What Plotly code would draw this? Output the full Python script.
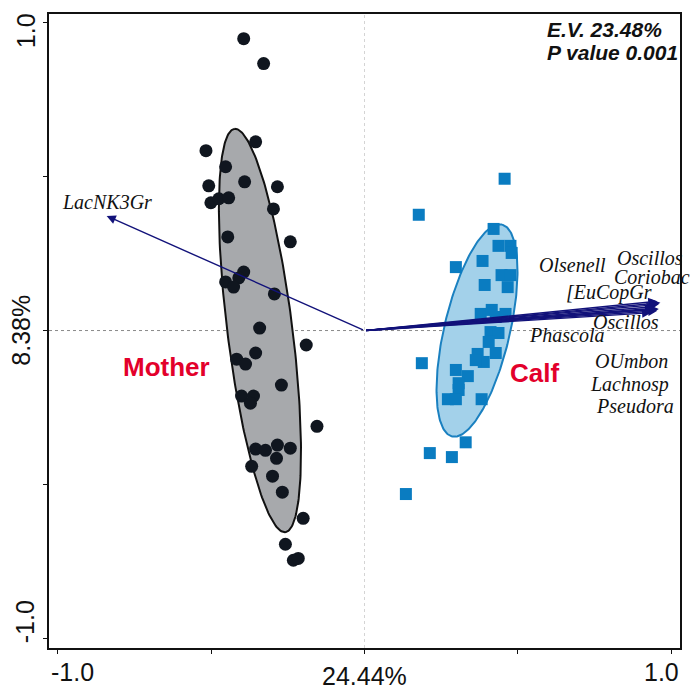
import numpy as np
import plotly.graph_objects as go

# ---------------- data ----------------
mother_x = [-0.394, -0.329, -0.517, -0.355, -0.453, -0.508, -0.391, -0.284, -0.501, -0.475,
            -0.443, -0.297, -0.446, -0.242, -0.394, -0.410, -0.453, -0.427, -0.294, -0.342,
            -0.190, -0.355, -0.417, -0.388, -0.271, -0.401, -0.362, -0.372, -0.155, -0.355,
            -0.323, -0.284, -0.242, -0.287, -0.368, -0.300, -0.268, -0.200, -0.258, -0.232,
            -0.216]
mother_y = [0.948, 0.867, 0.584, 0.613, 0.532, 0.470, 0.483, 0.467, 0.415, 0.428,
            0.431, 0.395, 0.304, 0.288, 0.190, 0.171, 0.158, 0.141, 0.119, 0.008,
            -0.047, -0.073, -0.093, -0.109, -0.177, -0.213, -0.213, -0.236, -0.311, -0.385,
            -0.389, -0.372, -0.382, -0.415, -0.441, -0.473, -0.525, -0.610, -0.694, -0.746,
            -0.740]

calf_x = [0.457, 0.177, 0.421, 0.298, 0.437, 0.476, 0.480, 0.385, 0.392, 0.447,
          0.476, 0.467, 0.379, 0.415, 0.428, 0.460, 0.411, 0.437, 0.405, 0.428,
          0.369, 0.389, 0.363, 0.187, 0.298, 0.337, 0.307, 0.307, 0.272, 0.298,
          0.382, 0.330, 0.213, 0.285, 0.135]
calf_y = [0.493, 0.376, 0.330, 0.206, 0.275, 0.275, 0.252, 0.226, 0.148, 0.180,
          0.180, 0.141, 0.054, 0.067, 0.044, 0.054, -0.005, -0.008, -0.037, -0.073,
          -0.076, -0.102, -0.096, -0.106, -0.128, -0.148, -0.171, -0.193, -0.223, -0.223,
          -0.223, -0.363, -0.398, -0.411, -0.531]

species = ["LacNK3Gr", "Olsenell", "Oscillos", "Coriobac", "[EuCopGr",
           "Oscillos", "Phascola", "OUmbon", "Lachnosp", "Pseudora"]
load_x = [-0.841, 0.955, 0.965, 0.960, 0.950, 0.945, 0.935, 0.955, 0.945, 0.960]
load_y = [0.372, 0.095, 0.090, 0.085, 0.078, 0.068, 0.058, 0.064, 0.072, 0.070]

x_ticks = [-1.0, -0.5, 0.0, 0.5, 1.0]
y_ticks = [-1.0, -0.5, 0.0, 0.5, 1.0]
x_axis_label = "24.44%"
y_axis_label = "8.38%"
ev_text = "E.V. 23.48%"
p_text = "P value 0.001"
group_names = ["Mother", "Calf"]

# ------------- layout helpers (positions / styles) -------------
label_pos = [(-0.841, 0.418), (0.678, 0.213), (0.930, 0.236), (0.938, 0.175),
             (0.798, 0.122), (0.854, 0.028), (0.659, -0.015), (0.872, -0.099),
             (0.865, -0.174), (0.881, -0.2455)]
group_label_pos = [(-0.646, -0.119), (0.554, -0.138)]
# ellipse: centre, major semi-axis vector, minor semi-axis length
ellipse_spec = [dict(c=(-0.341, 0.0), u=(-0.0829, 0.655), b=0.106,
                     fill="#a7a9ac", line="#111111"),
                dict(c=(0.367, 0.0), u=(0.0813, 0.344), b=0.107,
                     fill="#a3d1ea", line="#1a80c0")]

NAVY = "#12127a"
RED = "#e3002b"


def ellipse_path(c, u, b, n=240):
    a = np.hypot(*u)
    ux, uy = u[0] / a, u[1] / a
    vx, vy = -uy, ux
    t = np.linspace(0, 2 * np.pi, n)
    xs = c[0] + a * np.cos(t) * ux + b * np.sin(t) * vx
    ys = c[1] + a * np.cos(t) * uy + b * np.sin(t) * vy
    return xs, ys


fig = go.Figure()

for e in ellipse_spec:
    ex, ey = ellipse_path(e["c"], e["u"], e["b"])
    fig.add_trace(go.Scatter(x=ex, y=ey, mode="lines", fill="toself",
                             fillcolor=e["fill"], line=dict(color=e["line"], width=2),
                             hoverinfo="skip", showlegend=False))

fig.add_trace(go.Scatter(x=mother_x, y=mother_y, mode="markers", name=group_names[0],
                         marker=dict(symbol="circle", size=13, color="#10161f",
                                     line=dict(width=0)), showlegend=False))
fig.add_trace(go.Scatter(x=calf_x, y=calf_y, mode="markers", name=group_names[1],
                         marker=dict(symbol="square", size=12, color="#0a7cc1",
                                     line=dict(width=0)), showlegend=False))

annotations = []
# arrows
for sx, sy in zip(load_x, load_y):
    annotations.append(dict(x=sx, y=sy, ax=0, ay=0, xref="x", yref="y",
                            axref="x", ayref="y", text="", showarrow=True,
                            arrowhead=2, arrowsize=1.3, arrowwidth=1.4,
                            arrowcolor=NAVY, standoff=0, startstandoff=0))
# species labels
for name, (lx, ly) in zip(species, label_pos):
    annotations.append(dict(x=lx, y=ly, xref="x", yref="y", text="<i>%s</i>" % name,
                            showarrow=False,
                            font=dict(family="Liberation Serif", size=20, color="#111111"),
                            xanchor="center", yanchor="middle"))
# group labels
for name, (gx, gy) in zip(group_names, group_label_pos):
    annotations.append(dict(x=gx, y=gy, xref="x", yref="y", text="<b>%s</b>" % name,
                            showarrow=False, xanchor="center", yanchor="middle",
                            font=dict(family="Liberation Sans", size=26, color=RED)))
# E.V. / P value
annotations.append(dict(x=0.590, y=0.977, xref="x", yref="y", text="<b><i>%s</i></b>" % ev_text,
                        showarrow=False, xanchor="left", yanchor="middle",
                        font=dict(family="Liberation Sans", size=21, color="#111111")))
annotations.append(dict(x=0.590, y=0.902, xref="x", yref="y", text="<b><i>%s</i></b>" % p_text,
                        showarrow=False, xanchor="left", yanchor="middle",
                        font=dict(family="Liberation Sans", size=21, color="#111111")))

TICKFONT = dict(family="Liberation Sans", size=25, color="#111111")
# x tick labels / axis label
annotations.append(dict(x=-0.953, y=-0.0379, xref="x", yref="paper", text="%.1f" % x_ticks[0],
                        showarrow=False, xanchor="center", yanchor="middle", font=TICKFONT))
annotations.append(dict(x=0.970, y=-0.0379, xref="x", yref="paper", text="%.1f" % x_ticks[-1],
                        showarrow=False, xanchor="center", yanchor="middle", font=TICKFONT))
annotations.append(dict(x=0.0, y=-0.0435, xref="x", yref="paper", text=x_axis_label,
                        showarrow=False, xanchor="center", yanchor="middle", font=TICKFONT))
# y tick labels / axis label
annotations.append(dict(x=-0.0371, y=0.974, xref="paper", yref="y", text="%.1f" % y_ticks[-1],
                        showarrow=False, xanchor="center", yanchor="middle", textangle=-90,
                        font=TICKFONT))
annotations.append(dict(x=-0.039, y=-0.946, xref="paper", yref="y", text="%.1f" % y_ticks[0],
                        showarrow=False, xanchor="center", yanchor="middle", textangle=-90,
                        font=TICKFONT))
annotations.append(dict(x=-0.0458, y=0.0, xref="paper", yref="y", text=y_axis_label,
                        showarrow=False, xanchor="center", yanchor="middle", textangle=-90,
                        font=TICKFONT))

shapes = [
    dict(type="line", xref="x", yref="paper", x0=0, x1=0, y0=0, y1=1,
         line=dict(color="#d4d4d4", width=1, dash="dot"), layer="below"),
    dict(type="line", xref="paper", yref="y", x0=0, x1=1, y0=0, y1=0,
         line=dict(color="#8a8a8a", width=1, dash="dot"), layer="below"),
]

axis_common = dict(showgrid=False, zeroline=False, showline=True, mirror=True,
                   linecolor="#111111", linewidth=2, ticks="outside", ticklen=4,
                   tickwidth=1, tickcolor="#111111", showticklabels=False)

fig.update_layout(
    width=693, height=689,
    margin=dict(l=49, r=11, t=14, b=41),
    paper_bgcolor="white", plot_bgcolor="white",
    xaxis=dict(range=[-1.029, 1.029], tickvals=x_ticks, **axis_common),
    yaxis=dict(range=[-1.031, 1.028], tickvals=y_ticks, **axis_common),
    annotations=annotations, shapes=shapes, showlegend=False,
)

fig.write_html("out.html")
